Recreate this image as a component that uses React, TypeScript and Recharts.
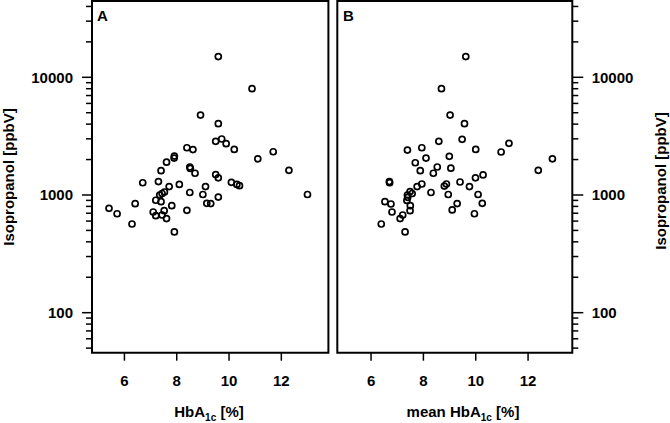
import React from "react";
import { ScatterChart, Scatter, XAxis, YAxis, ReferenceArea } from "recharts";

// Panel A: HbA1c [%] vs Isopropanol [ppbV]
const hba1cA = [
  9.59, 10.88, 8.91, 9.59, 9.49, 9.72, 9.89, 10.2, 8.39, 8.62, 7.91, 7.9, 7.61, 7.4,
  11.1, 11.69, 12.29, 8.5, 8.52, 8.7, 9.49, 9.59, 6.7, 7.3, 8.1, 7.71, 9.1, 10.09,
  10.3, 10.4, 7.53, 7.44, 7.35, 8.5, 9.0, 9.59, 13.0, 5.41, 5.72, 6.41, 6.29, 7.2,
  7.4, 7.1, 7.2, 7.52, 7.44, 7.61, 7.81, 7.91, 8.39, 9.15, 9.3,
];
const isoA = [
  15000, 8000, 4780, 4040, 2860, 2990, 2730, 2440, 2520, 2430, 2140, 2060, 1900, 1610,
  2030, 2330, 1620, 1730, 1680, 1530, 1490, 1400, 1270, 1300, 1230, 1180, 1180, 1280,
  1230, 1200, 1060, 1030, 1000, 1050, 1010, 960, 1010, 771, 693, 844, 567, 902,
  877, 717, 667, 736, 676, 630, 811, 485, 741, 850, 845,
];

// Panel B: mean HbA1c [%] vs Isopropanol [ppbV]
const meanHba1cB = [
  9.62, 8.69, 9.02, 9.57, 8.59, 9.48, 11.27, 10.97, 10.0, 7.94, 7.39, 8.1, 8.99, 7.69,
  8.53, 9.05, 8.38, 7.88, 12.93, 12.39, 10.28, 9.99, 6.7, 6.71, 7.94, 7.76, 8.88, 8.8,
  9.4, 9.76, 8.29, 8.95, 10.09, 7.49, 7.57, 7.39, 7.4, 7.37, 6.53, 6.76, 6.8, 6.39,
  7.11, 7.21, 7.3, 7.5, 7.49, 9.1, 9.29, 10.25, 9.95,
];
const isoB = [
  15000, 8000, 4780, 4040, 2860, 2970, 2750, 2320, 2440, 2520, 2410, 2060, 2130, 1880,
  1730, 1690, 1530, 1610, 2030, 1620, 1480, 1400, 1300, 1270, 1240, 1180, 1240, 1190,
  1290, 1180, 1050, 1010, 1010, 1070, 1030, 1000, 956, 900, 877, 838, 717, 567,
  630, 676, 485, 811, 736, 746, 845, 850, 693,
];

const xTicks = [6, 8, 10, 12];
const yTicks = [
  50, 60, 70, 80, 90, 100, 200, 300, 400, 500, 600, 700, 800, 900, 1000, 2000, 3000,
  4000, 5000, 6000, 7000, 8000, 9000, 10000, 20000, 30000, 40000,
];
const yLabeled = [100, 1000, 10000];

// framed (visible) panel ranges
const FRAME_X_A: [number, number] = [4.76, 13.8];
const FRAME_X_B: [number, number] = [4.71, 13.69];
const FRAME_Y: [number, number] = [45.7, 44500];
// plotting domains, a little wider so the outward tick marks fit inside the plot
const X_DOMAIN_A: [number, number] = [4.301, 13.8];
const X_DOMAIN_B: [number, number] = [4.71, 14.225];
const Y_DOMAIN: [number, number] = [37.58, 44500];

const FONT = '"Liberation Sans", Arial, Helvetica, sans-serif';

const dataA = hba1cA.map((x, i) => ({ x, y: isoA[i] }));
const dataB = meanHba1cB.map((x, i) => ({ x, y: isoB[i] }));

// tick-mark anchors on the frame edges (positioned through the chart scales)
const yTickMarks = (xEdge: number) => yTicks.map((v) => ({ x: xEdge, y: v, major: yLabeled.includes(v) }));
const xTickMarks = xTicks.map((v) => ({ x: v, y: FRAME_Y[0] }));

const LeftMark = (props: any) => {
  const { cx, cy, payload } = props;
  if (cx == null || cy == null) return null;
  const len = payload && payload.major ? 10 : 6;
  return <line x1={cx} x2={cx - len} y1={cy} y2={cy} stroke="#000" strokeWidth={1.5} />;
};
const RightMark = (props: any) => {
  const { cx, cy, payload } = props;
  if (cx == null || cy == null) return null;
  const len = payload && payload.major ? 11 : 6;
  return <line x1={cx} x2={cx + len} y1={cy} y2={cy} stroke="#000" strokeWidth={1.5} />;
};
const BottomMark = (props: any) => {
  const { cx, cy } = props;
  if (cx == null || cy == null) return null;
  return <line x1={cx} x2={cx} y1={cy} y2={cy + 8} stroke="#000" strokeWidth={1.5} />;
};

const renderLeftTick = (props: any) => {
  const { x, y, payload } = props;
  const v = payload.value;
  if (!yLabeled.includes(v)) return <g key={`lt-${v}`} />;
  return (
    <text key={`lt-${v}`} x={x - 7} y={y} dy="0.35em" textAnchor="end" fontSize={15} fontWeight="bold" fontFamily={FONT} fill="#000">
      {v}
    </text>
  );
};

const renderRightTick = (props: any) => {
  const { x, y, payload } = props;
  const v = payload.value;
  if (!yLabeled.includes(v)) return <g key={`rt-${v}`} />;
  return (
    <text key={`rt-${v}`} x={x + 5.4} y={y} dy="0.35em" textAnchor="start" fontSize={15} fontWeight="bold" fontFamily={FONT} fill="#000">
      {v}
    </text>
  );
};

const renderBottomTick = (props: any) => {
  const { x, y, payload } = props;
  return (
    <text key={`bt-${payload.value}`} x={x} y={y + 23.3} textAnchor="middle" fontSize={15} fontWeight="bold" fontFamily={FONT} fill="#000">
      {payload.value}
    </text>
  );
};

const Ring = (props: any) => {
  const { cx, cy } = props;
  if (cx == null || cy == null) return null;
  return <circle cx={cx} cy={cy} r={3} fill="none" stroke="#000" strokeWidth={1.7} />;
};

export default function App() {
  return (
    <div style={{ position: "absolute", left: 0, top: 0, width: 670, height: 423, background: "#fff" }}>
      <div style={{ position: "absolute", left: 0, top: 0 }}>
        <ScatterChart width={330} height={423} margin={{ top: 1, right: 1.6, bottom: 20.3, left: 0 }}>
          <XAxis
            type="number"
            dataKey="x"
            domain={X_DOMAIN_A}
            ticks={xTicks}
            interval={0}
            height={40}
            axisLine={false}
            tickLine={false}
            tickSize={0}
            tickMargin={0}
            tick={renderBottomTick}
          />
          <YAxis
            type="number"
            dataKey="y"
            scale="log"
            domain={Y_DOMAIN}
            ticks={yTicks}
            interval={0}
            width={80}
            axisLine={false}
            tickLine={false}
            tickSize={0}
            tickMargin={0}
            tick={renderLeftTick}
          />
          <ReferenceArea
            x1={FRAME_X_A[0]}
            x2={FRAME_X_A[1]}
            y1={FRAME_Y[0]}
            y2={FRAME_Y[1]}
            fill="none"
            stroke="#000"
            strokeWidth={2}
            ifOverflow="visible"
          />
          <Scatter data={yTickMarks(FRAME_X_A[0])} shape={<LeftMark />} isAnimationActive={false} legendType="none" />
          <Scatter data={xTickMarks} shape={<BottomMark />} isAnimationActive={false} legendType="none" />
          <Scatter data={dataA} shape={<Ring />} isAnimationActive={false} />
        </ScatterChart>
      </div>
      <div style={{ position: "absolute", left: 330, top: 0 }}>
        <ScatterChart width={340} height={423} margin={{ top: 1, right: 0, bottom: 20.3, left: 7.3 }}>
          <XAxis
            type="number"
            dataKey="x"
            domain={X_DOMAIN_B}
            ticks={xTicks}
            interval={0}
            height={40}
            axisLine={false}
            tickLine={false}
            tickSize={0}
            tickMargin={0}
            tick={renderBottomTick}
          />
          <YAxis
            type="number"
            dataKey="y"
            orientation="right"
            scale="log"
            domain={Y_DOMAIN}
            ticks={yTicks}
            interval={0}
            width={83.7}
            axisLine={false}
            tickLine={false}
            tickSize={0}
            tickMargin={0}
            tick={renderRightTick}
          />
          <ReferenceArea
            x1={FRAME_X_B[0]}
            x2={FRAME_X_B[1]}
            y1={FRAME_Y[0]}
            y2={FRAME_Y[1]}
            fill="none"
            stroke="#000"
            strokeWidth={2}
            ifOverflow="visible"
          />
          <Scatter data={yTickMarks(FRAME_X_B[1])} shape={<RightMark />} isAnimationActive={false} legendType="none" />
          <Scatter data={xTickMarks} shape={<BottomMark />} isAnimationActive={false} legendType="none" />
          <Scatter data={dataB} shape={<Ring />} isAnimationActive={false} />
        </ScatterChart>
      </div>
      <svg width={670} height={423} style={{ position: "absolute", left: 0, top: 0, pointerEvents: "none" }}>
        <g fontFamily={FONT} fontWeight="bold" fill="#000">
          <text x={97} y={20.7} fontSize={15}>A</text>
          <text x={343} y={20.7} fontSize={15}>B</text>
          <text transform="translate(14,177) rotate(-90)" textAnchor="middle" fontSize={15}>
            Isopropanol [ppbV]
          </text>
          <text transform="translate(666,181) rotate(-90)" textAnchor="middle" fontSize={15}>
            Isopropanol [ppbV]
          </text>
          <text x={209} y={417} textAnchor="middle" fontSize={15}>
            HbA<tspan fontSize={10} dy={4}>1c</tspan>
            <tspan dy={-4}> [%]</tspan>
          </text>
          <text x={463} y={417} textAnchor="middle" fontSize={15}>
            mean HbA<tspan fontSize={10} dy={4}>1c</tspan>
            <tspan dy={-4}> [%]</tspan>
          </text>
        </g>
      </svg>
    </div>
  );
}
